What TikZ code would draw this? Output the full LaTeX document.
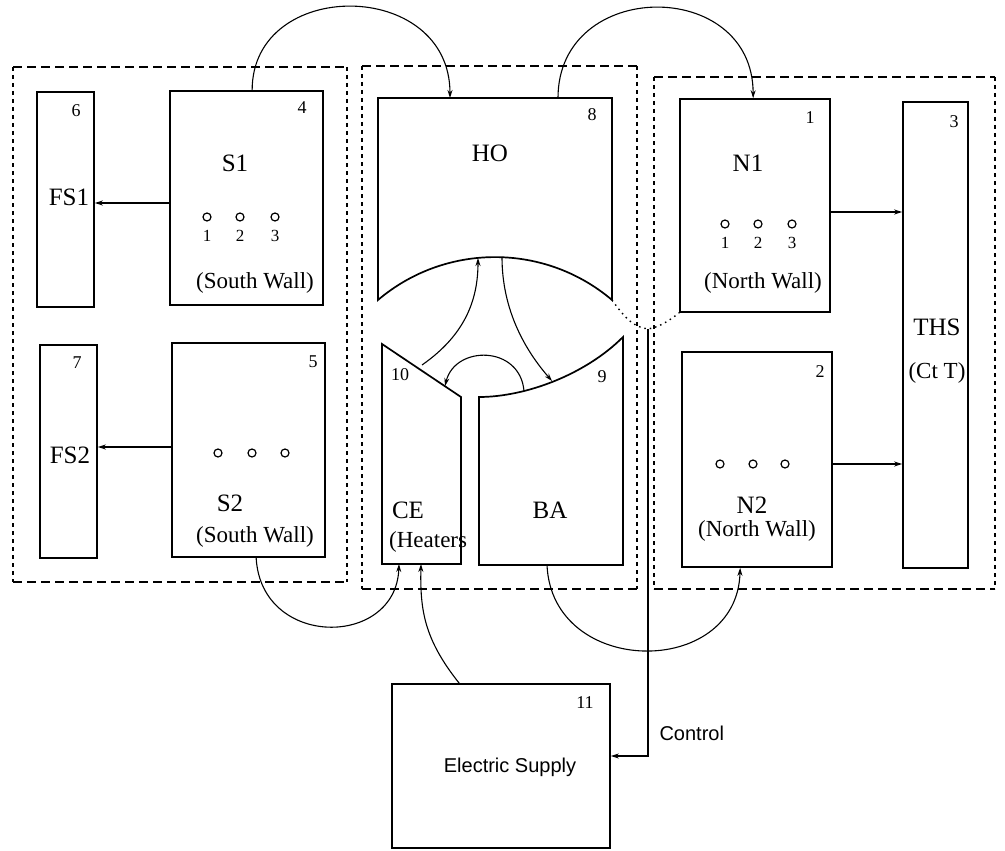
\documentclass[tikz,border=0pt]{standalone}
\usepackage{fontspec}
\setmainfont{Liberation Serif}
\newfontfamily\labelsans{Liberation Sans}
\usetikzlibrary{arrows.meta,calc}

\tikzset{
  wall/.style={line width=1.7pt},
  box/.style={wall,draw,inner sep=0pt},
  grph/.style={line width=1.4pt,dash pattern=on 9pt off 5pt},
  grpv/.style={line width=1.4pt,dash pattern=on 4pt off 4pt},
  flow/.style={line width=1.1pt,-{Stealth[length=8pt,width=5pt]}},
  feed/.style={line width=2pt,-{Stealth[length=8pt,width=5pt]}},
  big/.style={font=\fontsize{25}{28}\selectfont},
  small/.style={font=\fontsize{23}{26}\selectfont},
  num/.style={font=\fontsize{18}{20}\selectfont},
  digit/.style={font=\fontsize{17}{19}\selectfont,inner sep=0pt},
  hole/.style={circle,draw,line width=1.2pt,inner sep=0pt,minimum size=8pt},
  supply/.style={font=\labelsans\fontsize{20}{24}\selectfont},
}

\begin{document}
\begin{tikzpicture}[x=1pt,y=-1pt]
\useasboundingbox (0,0) rectangle (1005,851);
% zones
\foreach \xa/\ya/\xb/\yb in {13/67/347/582,362/66/637/589,654/77/995/589}{
  \draw[grph] (\xa,\ya) -- (\xb,\ya) (\xa,\yb) -- (\xb,\yb);
  \draw[grpv] (\xa,\ya) -- (\xa,\yb) (\xb,\ya) -- (\xb,\yb);
}

% south wall side
\node[box,minimum width=57pt,minimum height=215pt] (fs1) at (65.5,199.5) {};
\node[box,minimum width=153pt,minimum height=214pt] (s1) at (246.5,198) {};
\node[box,minimum width=57pt,minimum height=213pt] (fs2) at (68.5,451.5) {};
\node[box,minimum width=153pt,minimum height=214pt] (s2) at (248.5,450) {};
\node[num] (id6) at (76,111) {6};
\node[num] (id4) at (302,108) {4};
\node[big] (lbl-s1) at (235,163) {S1};
\node[big] (lbl-fs1) at (69,197) {FS1};
\node[small] (wall-s1) at (255,283) {(South Wall)};
\node[num] (id7) at (77,363) {7};
\node[num] (id5) at (313,362) {5};
\node[big] (lbl-fs2) at (70,455) {FS2};
\node[big] (lbl-s2) at (230,503) {S2};
\node[small] (wall-s2) at (255,537) {(South Wall)};
\foreach \i/\hx in {1/207,2/240,3/275}{
  \node[hole] (s1h\i) at (\hx,217) {};
  \node[digit] (s1d\i) at (\hx,236) {\i};
}
\foreach \i/\hx in {1/218,2/252,3/285}
  \node[hole] (s2h\i) at (\hx,453) {};

% middle zone
\coordinate (ho nw) at (378,98);
\coordinate (ho ne) at (612,98);
\coordinate (ce sw) at (382,564);
\coordinate (ba sw) at (479,565);
\draw[wall] (ho nw) -- (ho ne) -- (612,300) .. controls (544.6,242.8) and (445.4,242.8) .. (378,300) -- cycle;
\draw[wall] (382,344) -- (461,397) -- (461,564) -- (ce sw) -- cycle;
\draw[wall] (ba sw) -- (479,397) .. controls (525,397) and (585,375) .. (623,337) -- (623,565) -- cycle;
\node[big] (lbl-ho) at (490,153) {HO};
\node[num] (id8) at (592,115) {8};
\node[num] (id10) at (400,375) {10};
\node[num] (id9) at (602,377) {9};
\node[big] (lbl-ce) at (408,510) {CE};
\node[small,anchor=west,inner sep=0pt] (heat) at (389,542) {(Heaters};
\node[big] (lbl-ba) at (550,510) {BA};

% north wall side
\node[box,minimum width=150pt,minimum height=213pt] (nw1) at (755,205.5) {};
\node[box,minimum width=150pt,minimum height=215pt] (nw2) at (757,459.5) {};
\node[box,minimum width=65pt,minimum height=466pt] (ths) at (935.5,335) {};
\node[num] (id1) at (810,118) {1};
\node[big] (lbl-n1) at (748,163) {N1};
\node[small] (wall-n1) at (763,283) {(North Wall)};
\node[num] (id2) at (820,372) {2};
\node[big] (lbl-n2) at (752,505) {N2};
\node[small] (wall-n2) at (757,531) {(North Wall)};
\node[num] (id3) at (954,122) {3};
\node[big] (lbl-ths) at (937,327) {THS};
\node[small] (lbl-ct) at (937,373) {(Ct T)};
\foreach \i/\hx in {1/725,2/758,3/792}{
  \node[hole] (n1h\i) at (\hx,224) {};
  \node[digit] (n1d\i) at (\hx,243) {\i};
}
\foreach \i/\hx in {1/720,2/753,3/785}
  \node[hole] (n2h\i) at (\hx,464) {};

% supply
\node[box,minimum width=218pt,minimum height=164pt] (es) at (501,766) {};
\node[num] (id11) at (585,703) {11};
\node[supply] (lbl-es) at (510,767) {Electric Supply};
\node[supply,anchor=west] (lbl-ctl) at (656,733) {Control};

% links
\draw[line width=1.4pt,dash pattern=on 1.5pt off 4pt] (612,300) .. controls (625,318) and (633,327) .. (648,329) coordinate (ctl) .. controls (660,327) and (670,320) .. (nw1.south west);
\draw[feed] ([yshift=-5pt]s1.west) -- ([yshift=-5pt]s1.west -| fs1.east);
\draw[feed] ([yshift=3pt]s2.west) -- ([yshift=3pt]s2.west -| fs2.east);
\draw[feed] ([yshift=-6.5pt]nw1.east) -- ([yshift=-6.5pt]nw1.east -| ths.west);
\draw[feed] ([yshift=-4.5pt]nw2.east) -- ([yshift=-4.5pt]nw2.east -| ths.west);
\draw[flow] ([xshift=83pt]s1.north west) .. controls +(0,-113) and +(0,-120) .. ([xshift=72pt]ho nw);
\draw[flow] ([xshift=180pt]ho nw) .. controls +(0,-120) and +(0,-121) .. ([xshift=74pt]nw1.north west);
\draw[flow] ([xshift=85pt]s2.south west) .. controls +(5,91) and +(-3,84) .. ([xshift=17pt]ce sw);
\draw[flow] ([xshift=68pt]es.north west) .. controls +(-35,-44) and +(-1,46) .. ([xshift=39pt]ce sw);
\draw[flow] ([xshift=68pt]ba sw) .. controls +(5,113) and +(-3,111) .. ([xshift=59pt]nw2.south west);
\draw[line width=1.1pt,-{Stealth[length=8pt,width=5pt]}] (ctl) |- ([yshift=10pt]es.east);

% inside the hall
\coordinate (ce top) at (422,365);
\coordinate (ho bl) at (478,258);
\coordinate (ho br) at (502,257);
\coordinate (ba top) at (552,381);
\coordinate (ba tl) at (524,391);
\coordinate (ce slant) at (445,386);
\draw[flow] (ce top) .. controls (465,335) and (478,300) .. (ho bl);
\draw[flow] (ho br) .. controls (502,310) and (525,350) .. (ba top);
\draw[flow] (ba tl) .. controls (520,345) and (455,345) .. (ce slant);
\end{tikzpicture}
\end{document}
